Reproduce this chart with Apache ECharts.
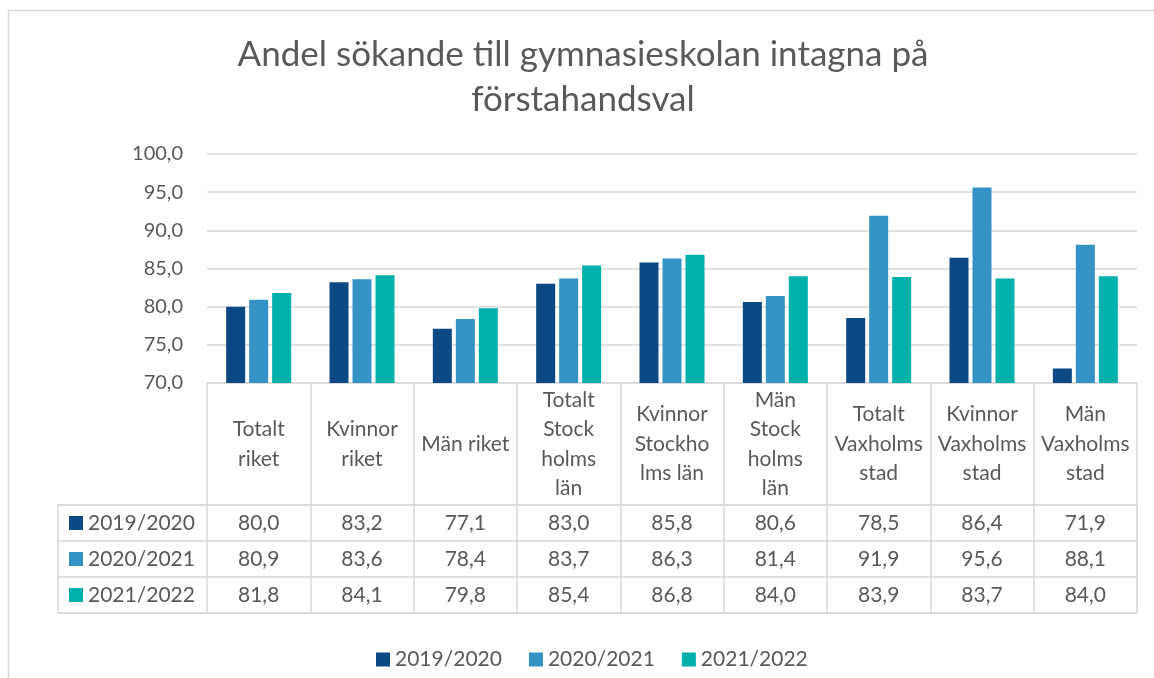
<!DOCTYPE html>
<html>
<head>
<meta charset="utf-8">
<script src="https://cdn.jsdelivr.net/npm/echarts@6/dist/echarts.min.js"></script>
<style>
html,body{margin:0;padding:0;background:#fff;}
#chart{width:1154px;height:678px;}
</style>
</head>
<body>
<div id="chart"></div>
<script>
const titleText = 'Andel sökande till gymnasieskolan intagna på\nförstahandsval';
const categories = ['Totalt\nriket', 'Kvinnor\nriket', 'Män riket', 'Totalt\nStock\nholms\nlän', 'Kvinnor\nStockho\nlms län', 'Män\nStock\nholms\nlän', 'Totalt\nVaxholms\nstad', 'Kvinnor\nVaxholms\nstad', 'Män\nVaxholms\nstad'];
const seriesNames = ['2019/2020', '2020/2021', '2021/2022'];
const s2019 = [80.0, 83.2, 77.1, 83.0, 85.8, 80.6, 78.5, 86.4, 71.9];
const s2020 = [80.9, 83.6, 78.4, 83.7, 86.3, 81.4, 91.9, 95.6, 88.1];
const s2021 = [81.8, 84.1, 79.8, 85.4, 86.8, 84.0, 83.9, 83.7, 84.0];
const yMin = 70, yMax = 100, yStep = 5;

const seriesData = [s2019, s2020, s2021];
const colors = ['#0B4884', '#3492C5', '#00B0AA'];
const textColor = '#595959';
const lineColor = '#D9D9D9';
const FONT = 'Lato';
const fmt = v => v.toFixed(1).replace('.', ',');

const chart = echarts.init(document.getElementById('chart'), null, {renderer: 'canvas'});

const rowMargins = [140, 176.5, 212.5];
const valueAxes = seriesData.map((arr, k) => ({
  type: 'category',
  gridIndex: 0,
  position: 'bottom',
  data: categories,
  axisLine: {show: false},
  axisTick: {show: false},
  splitLine: {show: false},
  axisLabel: {
    interval: 0,
    margin: rowMargins[k],
    verticalAlign: 'middle',
    fontFamily: FONT,
    fontSize: 21,
    color: textColor,
    formatter: (v, i) => fmt(arr[i])
  }
}));

const rich = {t: {fontFamily: FONT, fontSize: 21, color: textColor, padding: [0, 0, 0, 5]}};
colors.forEach((c, i) => { rich['s' + i] = {width: 14, height: 14, backgroundColor: c}; });

const option = {
  animation: false,
  backgroundColor: '#fff',
  title: {
    text: titleText,
    left: 578,
    textAlign: 'center',
    top: 27,
    textStyle: {fontFamily: FONT, fontSize: 35, fontWeight: 'normal', color: textColor, lineHeight: 45}
  },
  legend: {
    data: seriesNames,
    left: 371,
    top: 644,
    itemWidth: 14,
    itemHeight: 14,
    itemGap: 27,
    icon: 'rect',
    textStyle: {fontFamily: FONT, fontSize: 21, color: textColor}
  },
  graphic: [{
    type: 'rect',
    shape: {x: 8.5, y: 10.5, width: 1300, height: 800},
    style: {fill: 'none', stroke: lineColor, lineWidth: 1.5},
    silent: true,
    z: -10
  }],
  grid: [
    {left: 207, right: 17, top: 154, height: 229, containLabel: false},
    {left: 58, right: 17, top: 505, height: 108, show: true, borderColor: lineColor, borderWidth: 1.5, backgroundColor: 'transparent'}
  ],
  xAxis: [
    {
      type: 'category',
      gridIndex: 0,
      data: categories,
      axisLine: {show: true, lineStyle: {color: lineColor, width: 1.5}},
      axisTick: {show: true, length: 230, interval: 0, lineStyle: {color: lineColor, width: 1.5}},
      axisLabel: {
        interval: 0,
        margin: 61,
        verticalAlign: 'middle',
        fontFamily: FONT,
        fontSize: 21,
        lineHeight: 29.5,
        color: textColor,
        align: 'center'
      }
    },
    ...valueAxes,
    {type: 'value', gridIndex: 1, show: false}
  ],
  yAxis: [
    {
      type: 'value',
      gridIndex: 0,
      min: yMin,
      max: yMax,
      interval: yStep,
      axisLine: {show: false},
      axisTick: {show: false},
      splitLine: {lineStyle: {color: lineColor, width: 1.5}},
      axisLabel: {
        margin: 24,
        fontFamily: FONT,
        fontSize: 20,
        color: textColor,
        padding: [9, 0, 0, 0],
        formatter: v => fmt(v)
      }
    },
    {
      type: 'category',
      gridIndex: 1,
      inverse: true,
      data: seriesNames,
      axisLine: {show: false},
      axisTick: {show: false},
      splitLine: {show: true, interval: 0, lineStyle: {color: lineColor, width: 1.5}},
      axisLabel: {
        inside: true,
        interval: 0,
        margin: 11,
        align: 'left',
        formatter: (v, i) => '{s' + i + '|}{t|' + v + '}',
        rich: rich
      }
    }
  ],
  series: seriesData.map((arr, k) => ({
    name: seriesNames[k],
    type: 'bar',
    xAxisIndex: 0,
    yAxisIndex: 0,
    data: arr,
    barWidth: 19,
    barGap: '21%',
    itemStyle: {color: colors[k]}
  }))
};

chart.setOption(option);
</script>
</body>
</html>
